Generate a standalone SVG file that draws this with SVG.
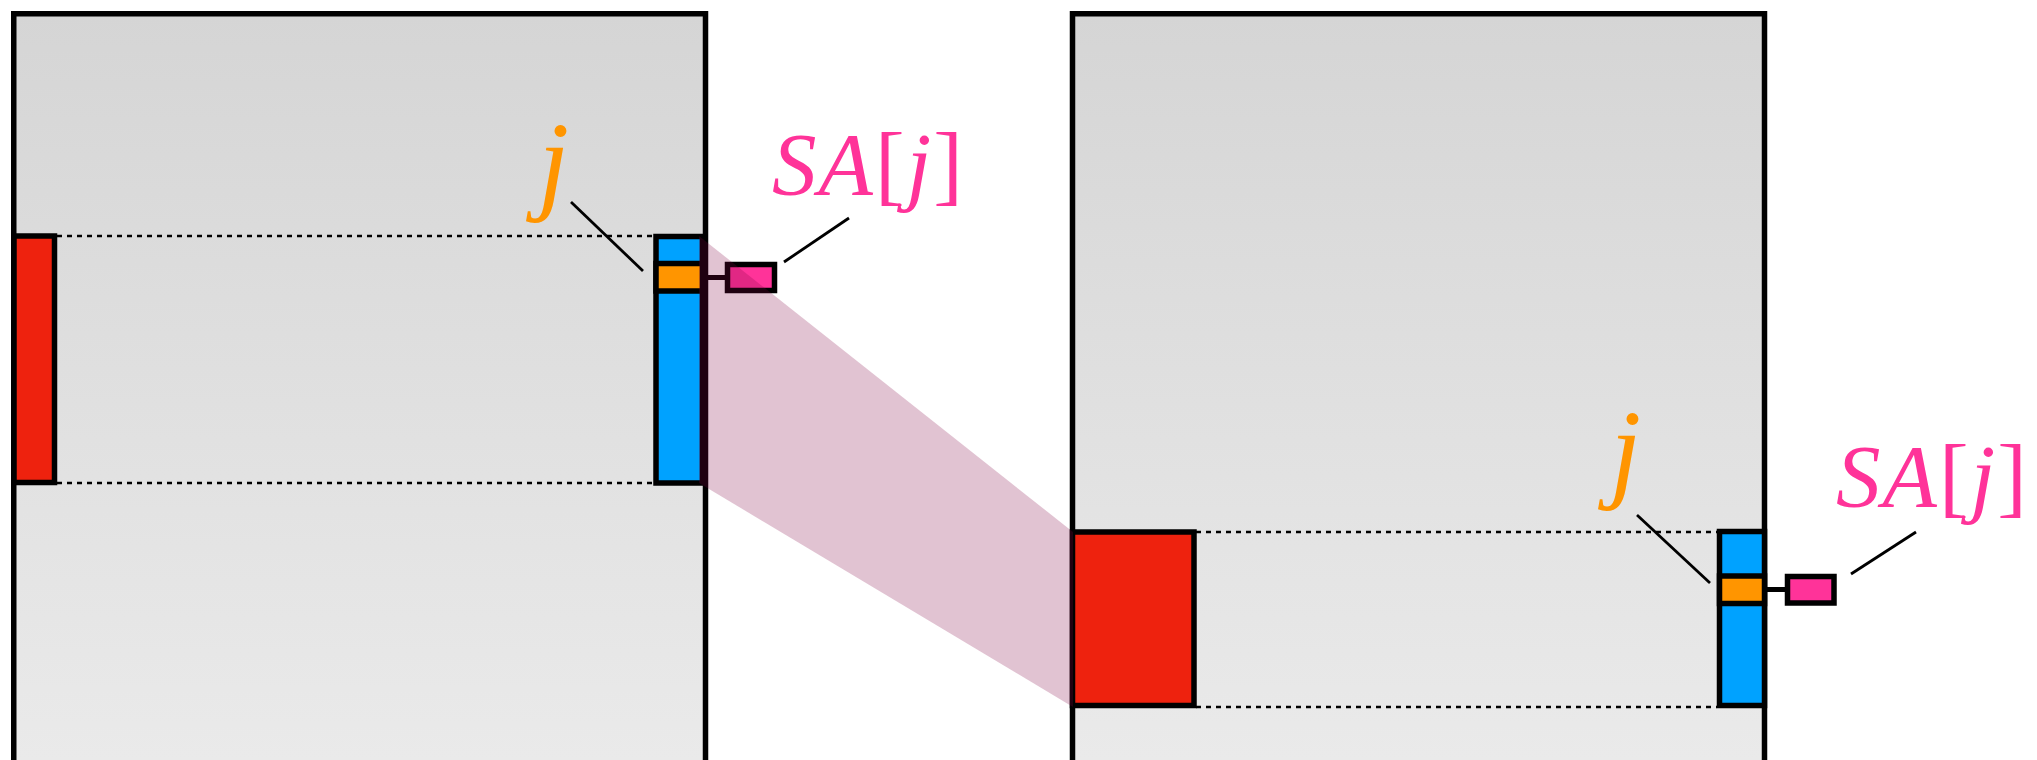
<svg xmlns="http://www.w3.org/2000/svg" width="2037" height="760" viewBox="0 0 2037 760">
  <defs>
    <linearGradient id="panelFill" gradientUnits="userSpaceOnUse" x1="0" y1="13" x2="0" y2="760">
      <stop offset="0" stop-color="#d5d5d5"/>
      <stop offset="1" stop-color="#eaeaea"/>
    </linearGradient>
    <style>
      .panel { fill: url(#panelFill); stroke: #000; stroke-width: 5.5; }
      .bar { stroke: #000; stroke-width: 5.5; }
      .red { fill: #ee220e; }
      .blue { fill: #00a2ff; }
      .orange { fill: #ff9500; }
      .pink { fill: #ff3399; }
      .dots { stroke: #000; stroke-width: 2.6; stroke-dasharray: 5 5; fill: none; }
      .link { stroke: #000; stroke-width: 5; fill: none; }
      .leader { stroke: #000; stroke-width: 2.8; fill: none; }
      .band { fill: #820544; fill-opacity: 0.24; }
      .lbl { font-family: "Liberation Serif", "Times New Roman", serif; }
      .it { font-style: italic; }
      .lj { fill: #ff9500; font-size: 112px; font-style: italic; }
      .lsa { fill: #ff3399; font-size: 89px; }
    </style>
  </defs>

  <!-- left matrix -->
  <g id="panel-left">
    <rect class="panel" x="13.75" y="13.75" width="691.75" height="800"/>
    <line class="dots" x1="57" y1="236" x2="653" y2="236"/>
    <line class="dots" x1="57" y1="483" x2="653" y2="483"/>
    <rect class="bar red" x="14" y="236" width="40.5" height="246.5"/>
    <rect class="bar blue" x="656" y="236.5" width="46.5" height="246.5"/>
    <rect class="bar orange" x="656" y="263.5" width="46.5" height="27.5"/>
  </g>

  <!-- right matrix -->
  <g id="panel-right">
    <rect class="panel" x="1072.5" y="13.75" width="692" height="800"/>
    <line class="dots" x1="1196" y1="532" x2="1717" y2="532"/>
    <line class="dots" x1="1196" y1="707" x2="1717" y2="707"/>
    <rect class="bar red" x="1072.5" y="532" width="121.5" height="173.5"/>
    <rect class="bar blue" x="1719.5" y="531.5" width="45" height="174"/>
    <rect class="bar orange" x="1719.5" y="576" width="45" height="27.5"/>
  </g>

  <!-- SA[j] cells and their links -->
  <g id="connectors">
    <line class="link" x1="703" y1="277.5" x2="727" y2="277.5"/>
    <line class="link" x1="1764" y1="589.5" x2="1787" y2="589.5"/>
  </g>
  <g id="sa-left">
    <rect class="bar pink" x="727.5" y="264.5" width="47" height="26"/>
  </g>
  <g id="sa-right">
    <rect class="bar pink" x="1787.5" y="576.5" width="46.5" height="26.5"/>
  </g>

  <!-- projection band between the two ranges -->
  <g id="band">
    <polygon class="band" points="699,236 1073,532 1073,707 699,483"/>
  </g>

  <!-- labels -->
  <g id="label-left">
    <line class="leader" x1="571" y1="202" x2="643" y2="271"/>
    <line class="leader" x1="849" y1="218" x2="784" y2="262"/>
    <text class="lbl lj" x="538" y="199">j</text>
    <text class="lbl lsa" x="772" y="193.5" letter-spacing="2"><tspan class="it">SA</tspan>[<tspan class="it">j</tspan>]</text>
  </g>
  <g id="label-right">
    <line class="leader" x1="1637" y1="515" x2="1710" y2="583"/>
    <line class="leader" x1="1916" y1="532" x2="1851" y2="574"/>
    <text class="lbl lj" x="1610" y="487">j</text>
    <text class="lbl lsa" x="1836" y="505.5" letter-spacing="2"><tspan class="it">SA</tspan>[<tspan class="it">j</tspan>]</text>
  </g>
</svg>
